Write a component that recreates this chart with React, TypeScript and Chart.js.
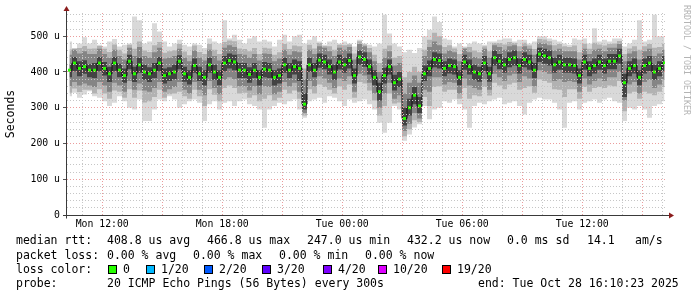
import React, { useEffect, useRef } from 'react';
import { Chart, registerables } from 'chart.js';

Chart.register(...registerables);

// Time axis in hours since Mon 00:00
const START_HOUR = 10.24;
const END_HOUR = 40.14;
const STEP_HOURS = 0.25;

const xTickHours = [12, 18, 24, 30, 36];
const xTickLabels = ['Mon 12:00', 'Mon 18:00', 'Tue 00:00', 'Tue 06:00', 'Tue 12:00'];
const yTickValues = [0, 100, 200, 300, 400, 500];
const yTickLabels = ['0', '100 u', '200 u', '300 u', '400 u', '500 u'];

// median rtt (us), one value per 15 min
const rttMedian = [
  405, 425, 410, 415, 405, 405, 425, 410, 395, 425, 405, 390, 430, 395, 420, 400, 395, 405, 425, 390, 395, 400, 430, 395,
  385, 418, 395, 385, 420, 400, 385, 425, 432, 428, 405, 405, 393, 405, 385, 408, 405, 385, 390, 420, 405, 415, 410, 310,
  420, 405, 433, 428, 415, 400, 428, 420, 432, 390, 442, 435, 415, 385, 345, 390, 415, 370, 380, 270, 300, 335, 305, 395,
  410, 435, 432, 410, 418, 415, 385, 428, 415, 400, 395, 425, 395, 440, 430, 420, 435, 440, 418, 435, 428, 405, 450, 445,
  440, 420, 428, 420, 420, 418, 390, 428, 410, 418, 428, 418, 430, 430, 445, 370, 410, 418, 385, 418, 425, 400, 410, 425,
];

const rttMax = [
  485, 467, 480, 497, 480, 490, 476, 471, 485, 492, 471, 476, 480, 555, 545, 480, 485, 536, 513, 485, 471, 480, 490, 476,
  471, 480, 476, 467, 494, 485, 480, 545, 494, 504, 490, 480, 494, 500, 485, 490, 485, 471, 490, 504, 485, 500, 504, 480,
  490, 500, 485, 476, 485, 490, 480, 485, 480, 471, 490, 480, 476, 471, 480, 560, 508, 480, 471, 455, 462, 453, 467, 500,
  518, 555, 540, 494, 490, 471, 480, 471, 480, 485, 480, 476, 485, 485, 490, 494, 494, 485, 490, 490, 480, 485, 500, 500,
  494, 490, 485, 480, 476, 494, 490, 494, 480, 522, 485, 490, 485, 494, 494, 471, 480, 490, 545, 485, 490, 560, 500, 500,
];

const rttMin = [
  332, 342, 328, 337, 346, 332, 328, 318, 305, 314, 332, 318, 300, 295, 323, 263, 263, 295, 323, 318, 332, 323, 300, 310,
  318, 323, 314, 263, 310, 318, 295, 314, 318, 305, 318, 323, 310, 305, 295, 244, 295, 305, 314, 310, 318, 323, 295, 272,
  318, 323, 328, 314, 332, 328, 318, 305, 323, 314, 318, 323, 310, 295, 258, 230, 258, 305, 295, 208, 225, 245, 254, 305,
  268, 295, 300, 318, 314, 323, 310, 295, 244, 305, 314, 310, 318, 323, 328, 310, 314, 318, 305, 281, 314, 323, 328, 323,
  323, 314, 295, 244, 314, 318, 295, 314, 318, 323, 314, 323, 328, 318, 314, 263, 300, 295, 305, 295, 272, 305, 310, 318,
];

const rttP95 = [
  463, 465, 467, 473, 465, 466, 473, 465, 456, 477, 462, 452, 476, 465, 485, 460, 456, 475, 484, 454, 458, 461, 478, 457,
  447, 474, 456, 450, 478, 462, 450, 484, 488, 486, 466, 464, 458, 467, 450, 468, 466, 448, 455, 478, 464, 474, 472, 410,
  476, 466, 481, 473, 472, 462, 476, 475, 477, 452, 486, 477, 467, 448, 425, 465, 474, 440, 445, 385, 400, 415, 400, 462,
  490, 510, 500, 470, 475, 466, 450, 468, 470, 460, 455, 472, 458, 481, 481, 477, 484, 481, 472, 482, 474, 464, 492, 491,
  486, 475, 478, 472, 470, 474, 455, 479, 465, 482, 477, 474, 478, 480, 487, 450, 466, 472, 462, 472, 478, 468, 470, 478,
];

const rttP05 = [
  342, 354, 344, 350, 350, 340, 352, 340, 325, 348, 345, 328, 352, 328, 348, 315, 318, 330, 350, 328, 338, 340, 345, 332,
  325, 350, 332, 305, 352, 336, 318, 355, 362, 355, 340, 342, 328, 335, 318, 325, 335, 320, 328, 350, 340, 348, 325, 278,
  352, 340, 365, 358, 350, 340, 360, 350, 365, 328, 372, 368, 348, 320, 278, 305, 340, 312, 315, 220, 240, 265, 260, 330,
  305, 358, 360, 345, 350, 350, 325, 355, 325, 335, 332, 358, 334, 370, 362, 352, 365, 370, 350, 355, 360, 342, 380, 375,
  370, 352, 350, 330, 352, 352, 325, 358, 345, 355, 358, 355, 362, 360, 375, 290, 340, 345, 325, 345, 340, 335, 345, 358,
];

const rttP85 = [
  448, 462, 452, 458, 450, 450, 465, 450, 440, 462, 445, 435, 468, 445, 470, 445, 440, 455, 468, 438, 440, 445, 465, 440,
  430, 460, 440, 432, 462, 445, 432, 468, 475, 470, 450, 448, 440, 450, 432, 452, 450, 430, 438, 462, 448, 458, 455, 380,
  462, 450, 472, 468, 458, 445, 468, 462, 470, 435, 478, 472, 455, 430, 400, 440, 458, 418, 425, 340, 370, 390, 370, 445,
  470, 485, 475, 452, 460, 455, 430, 465, 455, 442, 438, 465, 440, 475, 470, 462, 472, 475, 458, 472, 465, 448, 482, 480,
  475, 460, 465, 458, 458, 458, 435, 465, 450, 462, 465, 458, 468, 468, 478, 430, 452, 458, 435, 458, 465, 445, 452, 462,
];

const rttP15 = [
  360, 372, 362, 368, 362, 358, 372, 362, 345, 370, 362, 345, 375, 350, 368, 348, 345, 355, 372, 345, 352, 358, 372, 350,
  340, 372, 350, 335, 375, 355, 338, 378, 385, 380, 360, 360, 348, 360, 338, 360, 358, 338, 345, 372, 360, 370, 345, 285,
  375, 360, 388, 382, 370, 355, 382, 375, 388, 345, 395, 390, 370, 340, 300, 340, 370, 325, 335, 235, 255, 285, 270, 350,
  345, 385, 385, 365, 372, 370, 340, 382, 362, 355, 350, 380, 350, 395, 385, 375, 390, 395, 372, 388, 382, 360, 405, 400,
  395, 375, 380, 372, 375, 372, 345, 382, 365, 375, 382, 375, 385, 385, 400, 320, 365, 372, 340, 372, 378, 355, 365, 380,
];

const rttP65 = [
  422, 442, 430, 433, 422, 425, 442, 428, 415, 442, 423, 410, 448, 415, 440, 420, 413, 425, 442, 410, 413, 420, 447, 415,
  405, 438, 415, 405, 440, 420, 405, 445, 452, 448, 425, 425, 413, 425, 405, 428, 425, 405, 410, 440, 425, 435, 430, 340,
  440, 425, 452, 448, 435, 420, 448, 440, 452, 410, 460, 455, 435, 405, 370, 412, 435, 392, 400, 300, 325, 358, 330, 418,
  432, 455, 452, 430, 438, 435, 405, 448, 435, 420, 415, 445, 415, 460, 450, 440, 455, 460, 438, 455, 448, 425, 468, 465,
  460, 440, 448, 440, 440, 438, 410, 448, 430, 438, 448, 438, 450, 450, 465, 395, 430, 438, 405, 438, 445, 420, 430, 445,
];

const rttP35 = [
  385, 402, 388, 395, 385, 383, 402, 390, 372, 402, 385, 370, 408, 372, 398, 378, 372, 383, 402, 368, 375, 380, 408, 373,
  365, 398, 375, 362, 398, 378, 363, 402, 410, 405, 383, 383, 370, 383, 362, 385, 383, 362, 368, 398, 383, 393, 375, 295,
  400, 385, 412, 408, 393, 378, 407, 398, 410, 368, 420, 415, 393, 363, 320, 368, 393, 348, 358, 250, 278, 310, 285, 375,
  388, 413, 410, 388, 396, 393, 363, 406, 393, 378, 373, 403, 373, 418, 408, 398, 413, 418, 396, 413, 406, 383, 428, 423,
  418, 398, 406, 398, 398, 396, 368, 406, 388, 396, 406, 396, 408, 408, 423, 330, 388, 396, 363, 396, 403, 378, 388, 403,
];

const lossLabels = ['0', '1/20', '2/20', '3/20', '4/20', '10/20', '19/20'];
const lossColors = ['#26ff00', '#00b8ff', '#0059ff', '#5e00ff', '#7e00ff', '#dd00ff', '#ff0000'];

const MONO = '"DejaVu Sans Mono", "Liberation Mono", monospace';
const MAJOR_GRID = '#eb9c9c';
const MINOR_GRID = '#c6c6c6';

const toPoints = (arr: number[]) =>
  arr.map((v, i) => ({ x: START_HOUR + STEP_HOURS * (i + 0.5), y: v }));

const axesPlugin = {
  id: 'rrdAxes',
  afterDraw(chart: any) {
    const { ctx, chartArea: a } = chart;
    const x0 = a.left - 0.5;
    const y0 = a.bottom + 0.5;
    ctx.save();
    ctx.strokeStyle = '#3a3a3a';
    ctx.lineWidth = 1;
    ctx.beginPath();
    ctx.moveTo(x0, y0 + 3);
    ctx.lineTo(x0, a.top - 3);
    ctx.moveTo(a.left - 4, y0);
    ctx.lineTo(a.right + 4, y0);
    ctx.stroke();
    ctx.fillStyle = '#8b1c1c';
    ctx.beginPath();
    ctx.moveTo(x0 - 3, a.top - 2);
    ctx.lineTo(x0 + 3, a.top - 2);
    ctx.lineTo(x0, a.top - 7);
    ctx.closePath();
    ctx.fill();
    ctx.beginPath();
    ctx.moveTo(a.right + 4, y0 - 3);
    ctx.lineTo(a.right + 4, y0 + 3);
    ctx.lineTo(a.right + 9, y0);
    ctx.closePath();
    ctx.fill();
    ctx.restore();
  },
};

function band(data: number[], color: string, order: number, fill: any) {
  return {
    data: toPoints(data),
    borderWidth: 0,
    borderColor: 'rgba(0,0,0,0)',
    backgroundColor: color,
    pointRadius: 0,
    stepped: 'middle' as const,
    fill,
    order,
  };
}

function SmokeChart() {
  const ref = useRef<HTMLCanvasElement | null>(null);
  useEffect(() => {
    if (!ref.current) return;
    const chart = new Chart(ref.current, {
      type: 'line',
      data: {
        datasets: [
          band(rttMax, '#d9d9d9', 6, '+1'),
          band(rttMin, '#d9d9d9', 6, false),
          band(rttP95, '#b2b2b2', 5, '+1'),
          band(rttP05, '#b2b2b2', 5, false),
          band(rttP85, '#858585', 4, '+1'),
          band(rttP15, '#858585', 4, false),
          band(rttP65, '#434343', 3, '+1'),
          band(rttP35, '#434343', 3, false),
          {
            data: toPoints(rttMedian),
            borderColor: '#111111',
            borderWidth: 1,
            stepped: 'middle' as const,
            fill: false,
            pointStyle: 'rect',
            pointRadius: 2.1,
            pointBorderWidth: 0,
            pointBackgroundColor: lossColors[0],
            order: 1,
          },
        ] as any,
      },
      options: {
        animation: false,
        responsive: false,
        devicePixelRatio: 1,
        events: [],
        layout: { padding: { top: 13, right: 32, left: 0, bottom: 0 } },
        plugins: { legend: { display: false }, tooltip: { enabled: false } },
        scales: {
          x: {
            type: 'linear',
            min: START_HOUR,
            max: END_HOUR,
            afterFit: (s: any) => {
              s.height = 82;
            },
            grid: {
              z: 1,
              color: (c: any) => (c.tick && Math.round(c.tick.value) % 3 === 0 ? MAJOR_GRID : MINOR_GRID),
              lineWidth: 1,
              tickLength: 3,
              tickColor: 'rgba(0,0,0,0)',
            },
            border: { display: false, dash: [1, 2] },
            ticks: {
              stepSize: 1,
              autoSkip: false,
              maxRotation: 0,
              minRotation: 0,
              includeBounds: false,
              maxTicksLimit: 1000,
              padding: 1,
              color: '#000',
              font: { family: MONO, size: 9.8 },
              callback: (v: any) => {
                const k = xTickHours.indexOf(Math.round(Number(v)));
                return k >= 0 && Math.abs(Number(v) - xTickHours[k]) < 1e-6 ? xTickLabels[k] : '';
              },
            },
          },
          y: {
            type: 'linear',
            min: 0,
            max: 565,
            afterFit: (s: any) => {
              s.width = 67;
            },
            grid: {
              z: 1,
              color: (c: any) => (c.tick && Math.round(c.tick.value) % 100 === 0 ? MAJOR_GRID : MINOR_GRID),
              lineWidth: 1,
              tickLength: 4,
              tickColor: (c: any) => (c.tick && Math.round(c.tick.value) % 100 === 0 ? '#555' : 'rgba(0,0,0,0)'),
            },
            border: { display: false, dash: [1, 2] },
            title: {
              display: true,
              text: 'Seconds',
              color: '#000',
              font: { family: MONO, size: 11.5 },
              padding: { top: 4, bottom: 0 },
            },
            ticks: {
              stepSize: 20,
              autoSkip: false,
              includeBounds: false,
              maxTicksLimit: 1000,
              padding: 3,
              color: '#000',
              font: { family: MONO, size: 9.8 },
              callback: (v: any) => {
                const k = yTickValues.indexOf(Math.round(Number(v)));
                return k >= 0 ? yTickLabels[k] : '';
              },
            },
          },
        },
      } as any,
      plugins: [axesPlugin],
    });
    return () => chart.destroy();
  }, []);
  return <canvas ref={ref} width={697} height={297} style={{ position: 'absolute', left: 0, top: 0 }} />;
}

const txt = (left: number, top: number, s: string, key: string) => (
  <span
    key={key}
    style={{ position: 'absolute', left, top, whiteSpace: 'pre', lineHeight: '14px', fontFamily: MONO, fontSize: '11.5px', color: '#000' }}
  >
    {s}
  </span>
);

export default function App() {
  const squareX = [108, 146, 204, 262, 323, 378, 442];
  return (
    <div style={{ position: 'fixed', left: 0, top: 0, width: 697, height: 297, background: '#fff', overflow: 'hidden' }}>
      <SmokeChart />
      {txt(16, 233, 'median rtt:', 'r1a')}
      {txt(107, 233, '408.8 us avg', 'r1b')}
      {txt(207, 233, '466.8 us max', 'r1c')}
      {txt(307, 233, '247.0 us min', 'r1d')}
      {txt(407, 233, '432.2 us now', 'r1e')}
      {txt(507, 233, '0.0 ms sd', 'r1f')}
      {txt(587, 233, '14.1', 'r1g')}
      {txt(635, 233, 'am/s', 'r1h')}
      {txt(16, 247.5, 'packet loss:', 'r2a')}
      {txt(107, 247.5, '0.00 % avg', 'r2b')}
      {txt(193, 247.5, '0.00 % max', 'r2c')}
      {txt(279, 247.5, '0.00 % min', 'r2d')}
      {txt(365, 247.5, '0.00 % now', 'r2e')}
      {txt(16, 261.5, 'loss color:', 'r3a')}
      {lossLabels.map((l, i) => (
        <React.Fragment key={'loss' + i}>
          <span
            style={{
              position: 'absolute',
              left: squareX[i],
              top: 265,
              width: 9,
              height: 9,
              boxSizing: 'border-box',
              border: '1px solid #000',
              background: lossColors[i],
            }}
          />
          {txt(squareX[i] + 15, 261.5, l, 'll' + i)}
        </React.Fragment>
      ))}
      {txt(16, 275.5, 'probe:', 'r4a')}
      {txt(107, 275.5, '20 ICMP Echo Pings (56 Bytes) every 300s', 'r4b')}
      {txt(478, 275.5, 'end: Tue Oct 28 16:10:23 2025', 'r4c')}
      <div
        style={{
          position: 'absolute',
          left: 682,
          top: 5,
          writingMode: 'vertical-rl',
          fontFamily: MONO,
          fontSize: '8.3px',
          lineHeight: '10px',
          color: '#b4b4b4',
          whiteSpace: 'pre',
        }}
      >
        RRDTOOL / TOBI OETIKER
      </div>
    </div>
  );
}
